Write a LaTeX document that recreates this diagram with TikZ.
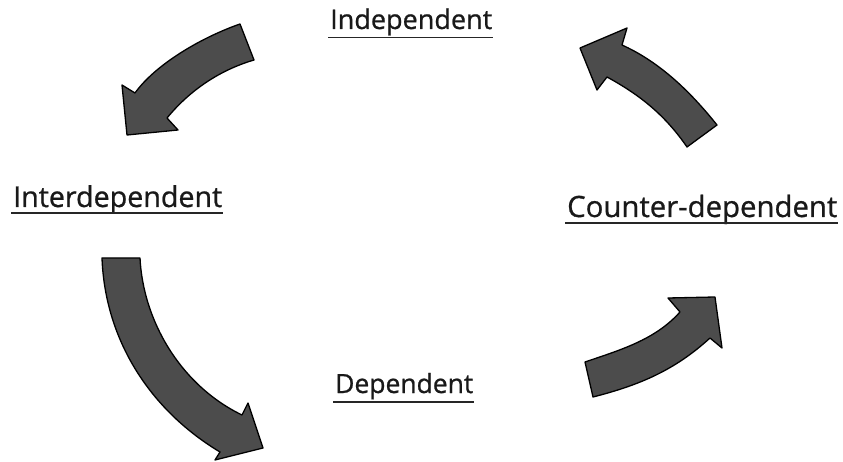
\documentclass[tikz,border=0pt]{standalone}
\usepackage{fontspec}
\setmainfont{Open Sans}
\newfontfamily\lblfont[FakeBold=0.8]{Open Sans}
\begin{document}
\begin{tikzpicture}[x=1pt,y=-1pt,
  blockarrow/.style={fill=black!70, draw=black, line width=1.3pt, line join=round},
  lbl/.style={inner sep=0pt, anchor=base west, text=black!90, font=\lblfont},
  ul/.style={line width=1.4pt, draw=black!85}]
\useasboundingbox (0,0) rectangle (843,462);

% labels
\node[lbl] (indep) at (330,29) {\resizebox{162pt}{!}{Independent}};
\node[lbl] (inter) at (13,207) {\resizebox{209pt}{!}{Interdependent}};
\node[lbl] (counter) at (567,217) {\resizebox{270pt}{!}{Counter-dependent}};
\node[lbl] (dep) at (335,393) {\resizebox{138pt}{!}{Dependent}};

\draw[ul] ([xshift=-2pt,yshift=-8.5pt]indep.base west) -- ([xshift=1pt,yshift=-8.5pt]indep.base east);
\draw[ul] ([xshift=-2pt,yshift=-6pt]inter.base west) -- ([xshift=1pt,yshift=-6pt]inter.base east);
\draw[ul] ([xshift=-2pt,yshift=-6pt]counter.base west) -- ([xshift=1pt,yshift=-6pt]counter.base east);
\draw[ul] ([xshift=-2pt,yshift=-9pt]dep.base west) -- ([xshift=1pt,yshift=-9pt]dep.base east);

% top-left arrow (Independent -> Interdependent)
\draw[blockarrow] (240,24) .. controls (200,38) and (155,65) .. (135,93)
  -- (122,85) -- (127,135) -- (178,130) -- (167,118)
  .. controls (190,90) and (220,70) .. (254,60) -- cycle;

% left arrow (Interdependent -> Dependent)
\draw[blockarrow] (102,258) -- (140,258)
  .. controls (143,320) and (180,385) .. (242,415)
  -- (248,403) -- (263,448) -- (215,460) -- (220,452)
  .. controls (150,410) and (105,340) .. (102,258) -- cycle;

% bottom-right arrow (Dependent -> Counter-dependent)
\draw[blockarrow] (585,362) .. controls (620,350) and (655,340) .. (680,312)
  -- (668,298) -- (715,297) -- (722,348) -- (710,338)
  .. controls (675,370) and (640,385) .. (593,397) -- cycle;

% top-right arrow (Counter-dependent -> Independent)
\draw[blockarrow] (687,147) -- (717,125)
  .. controls (685,85) and (655,60) .. (622,45)
  -- (627,28) -- (580,48) -- (597,90) -- (607,77)
  .. controls (640,95) and (665,115) .. (687,147) -- cycle;
\end{tikzpicture}
\end{document}
